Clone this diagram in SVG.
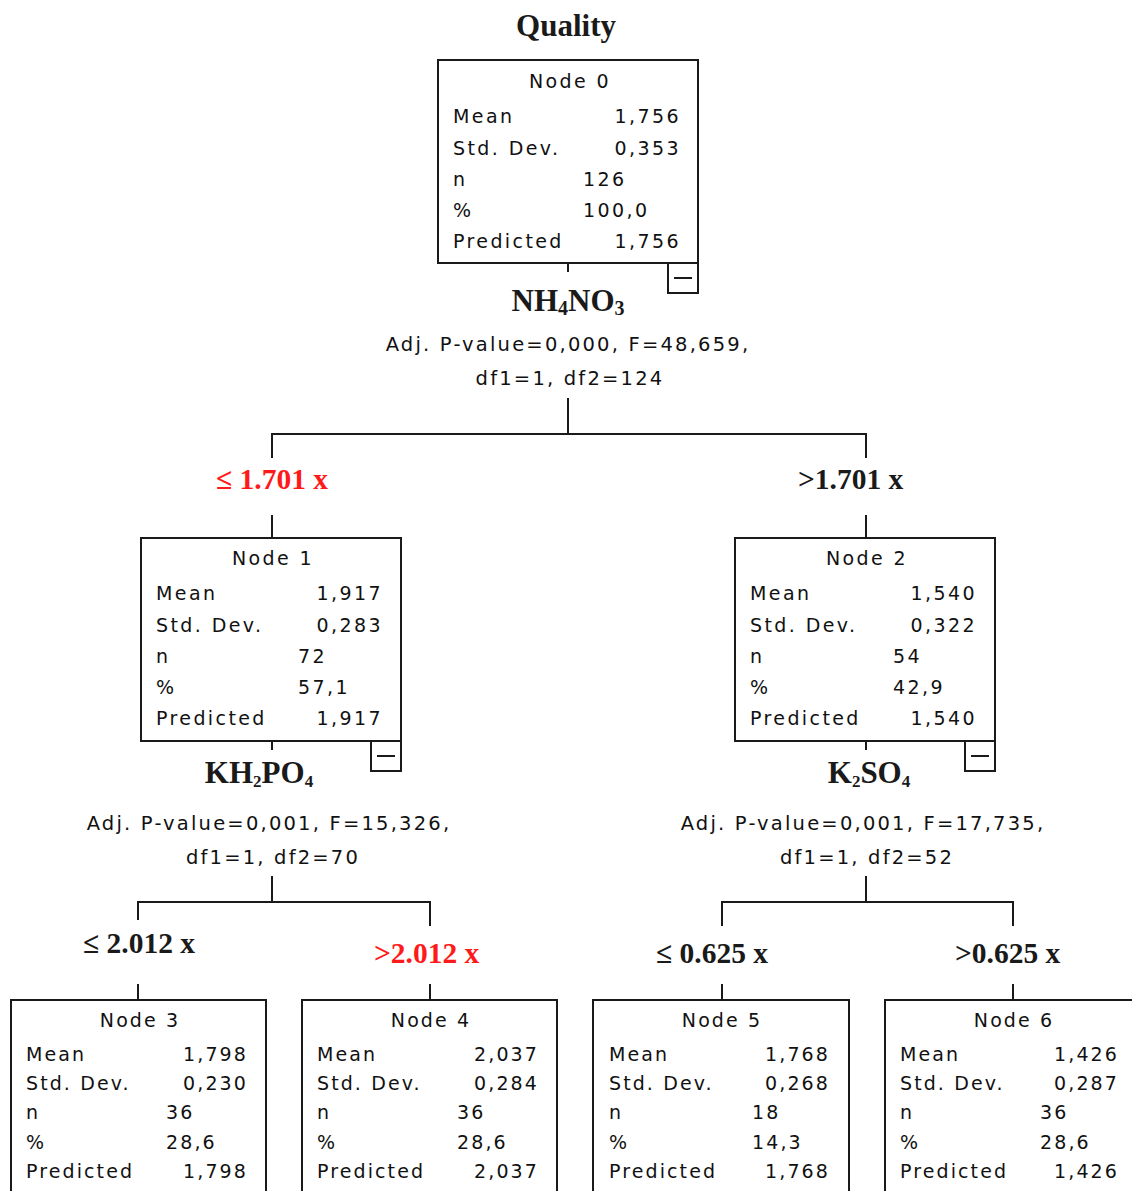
<svg xmlns="http://www.w3.org/2000/svg" width="1132" height="1191" viewBox="0 0 1132 1191">
<style>
.bg{fill:#fff}
.box{fill:#fff;stroke:#1a1a1a;stroke-width:2}
.mb{fill:#fff;stroke:#1a1a1a;stroke-width:2}
.ln{stroke:#1a1a1a;stroke-width:2;fill:none}
.t{font-family:"DejaVu Sans",sans-serif;font-size:19px;letter-spacing:2.4px;fill:#111}
.tb{font-family:"DejaVu Sans",sans-serif;font-size:19px;letter-spacing:2.1px;fill:#111}
.p{font-family:"DejaVu Sans",sans-serif;font-size:19.5px;letter-spacing:2.2px;fill:#111;text-anchor:middle}
.v{font-family:"Liberation Serif",serif;font-weight:bold;font-size:31px;fill:#1a1a1a;text-anchor:middle}
.b{font-family:"Liberation Serif",serif;font-weight:bold;font-size:29.5px;fill:#1a1a1a}
.red{fill:#ff1a1a}
.e{text-anchor:end}
.m{text-anchor:middle}
</style>
<rect class="bg" x="0" y="0" width="1132" height="1191"/>
<text x="566" y="36" class="v">Quality</text>

<g id="connectors">
<path class="ln" d="M568 263V272"/>
<path class="ln" d="M568 398V434M272 434H866M272 433V458M866 433V458"/>
<path class="ln" d="M272 515V538M866 515V538"/>
<path class="ln" d="M272 741V750M866 741V750"/>
<path class="ln" d="M272 876V902M138 902H430M138 901V920M430 901V926"/>
<path class="ln" d="M866 876V902M722 902H1013M722 901V926M1013 901V926"/>
<path class="ln" d="M138 984V1000M430 984V1000M722 984V1000M1013 984V1000"/>
</g>

<g id="node0">
<rect class="box" x="438" y="60" width="260" height="203"/>
<text class="t m" x="570" y="88">Node 0</text>
<text class="t" x="453" y="123">Mean</text><text class="t e" x="681" y="123">1,756</text>
<text class="t" x="453" y="155">Std. Dev.</text><text class="t e" x="681" y="155">0,353</text>
<text class="t" x="453" y="186">n</text><text class="t" x="583" y="186">126</text>
<text class="t" x="453" y="217">%</text><text class="t" x="583" y="217">100,0</text>
<text class="t" x="453" y="248">Predicted</text><text class="t e" x="681" y="248">1,756</text>
<rect class="mb" x="668" y="263" width="30" height="30"/>
<path class="ln" d="M674 278H692"/>
</g>
<text class="v" x="568" y="311" font-size="33">NH<tspan font-size="20" dy="4">4</tspan><tspan dy="-4">NO</tspan><tspan font-size="20" dy="4">3</tspan></text>
<text class="p" x="568" y="351">Adj. P-value=0,000, F=48,659,</text>
<text class="p" x="570" y="385">df1=1, df2=124</text>

<text class="b red" x="216" y="489">≤ 1.701 x</text>
<text class="b" x="798" y="489">&gt;1.701 x</text>

<g id="node1">
<rect class="box" x="141" y="538" width="260" height="203"/>
<text class="t m" x="273" y="565">Node 1</text>
<text class="t" x="156" y="600">Mean</text><text class="t e" x="383" y="600">1,917</text>
<text class="t" x="156" y="632">Std. Dev.</text><text class="t e" x="383" y="632">0,283</text>
<text class="t" x="156" y="663">n</text><text class="t" x="298" y="663">72</text>
<text class="t" x="156" y="694">%</text><text class="t" x="298" y="694">57,1</text>
<text class="t" x="156" y="725">Predicted</text><text class="t e" x="383" y="725">1,917</text>
<rect class="mb" x="371" y="741" width="30" height="30"/>
<path class="ln" d="M377 756H395"/>
</g>
<text class="v" x="259" y="783" font-size="28">KH<tspan font-size="17" dy="4">2</tspan><tspan dy="-4">PO</tspan><tspan font-size="17" dy="4">4</tspan></text>
<text class="p" x="269" y="830">Adj. P-value=0,001, F=15,326,</text>
<text class="p" x="273" y="864">df1=1, df2=70</text>

<g id="node2">
<rect class="box" x="735" y="538" width="260" height="203"/>
<text class="t m" x="867" y="565">Node 2</text>
<text class="t" x="750" y="600">Mean</text><text class="t e" x="977" y="600">1,540</text>
<text class="t" x="750" y="632">Std. Dev.</text><text class="t e" x="977" y="632">0,322</text>
<text class="t" x="750" y="663">n</text><text class="t" x="893" y="663">54</text>
<text class="t" x="750" y="694">%</text><text class="t" x="893" y="694">42,9</text>
<text class="t" x="750" y="725">Predicted</text><text class="t e" x="977" y="725">1,540</text>
<rect class="mb" x="965" y="741" width="30" height="30"/>
<path class="ln" d="M971 756H989"/>
</g>
<text class="v" x="869" y="783" font-size="28">K<tspan font-size="17" dy="4">2</tspan><tspan dy="-4">SO</tspan><tspan font-size="17" dy="4">4</tspan></text>
<text class="p" x="863" y="830">Adj. P-value=0,001, F=17,735,</text>
<text class="p" x="867" y="864">df1=1, df2=52</text>

<text class="b" x="83" y="953">≤ 2.012 x</text>
<text class="b red" x="374" y="963">&gt;2.012 x</text>
<text class="b" x="656" y="963">≤ 0.625 x</text>
<text class="b" x="955" y="963">&gt;0.625 x</text>

<g id="node3">
<rect class="box" x="11" y="1000" width="255" height="200"/>
<text class="tb m" x="140" y="1027">Node 3</text>
<text class="tb" x="26" y="1061">Mean</text><text class="tb e" x="248" y="1061">1,798</text>
<text class="tb" x="26" y="1090">Std. Dev.</text><text class="tb e" x="248" y="1090">0,230</text>
<text class="tb" x="26" y="1119">n</text><text class="tb" x="166" y="1119">36</text>
<text class="tb" x="26" y="1149">%</text><text class="tb" x="166" y="1149">28,6</text>
<text class="tb" x="26" y="1178">Predicted</text><text class="tb e" x="248" y="1178">1,798</text>
</g>

<g id="node4">
<rect class="box" x="302" y="1000" width="255" height="200"/>
<text class="tb m" x="431" y="1027">Node 4</text>
<text class="tb" x="317" y="1061">Mean</text><text class="tb e" x="539" y="1061">2,037</text>
<text class="tb" x="317" y="1090">Std. Dev.</text><text class="tb e" x="539" y="1090">0,284</text>
<text class="tb" x="317" y="1119">n</text><text class="tb" x="457" y="1119">36</text>
<text class="tb" x="317" y="1149">%</text><text class="tb" x="457" y="1149">28,6</text>
<text class="tb" x="317" y="1178">Predicted</text><text class="tb e" x="539" y="1178">2,037</text>
</g>

<g id="node5">
<rect class="box" x="593" y="1000" width="256" height="200"/>
<text class="tb m" x="722" y="1027">Node 5</text>
<text class="tb" x="609" y="1061">Mean</text><text class="tb e" x="830" y="1061">1,768</text>
<text class="tb" x="609" y="1090">Std. Dev.</text><text class="tb e" x="830" y="1090">0,268</text>
<text class="tb" x="609" y="1119">n</text><text class="tb" x="752" y="1119">18</text>
<text class="tb" x="609" y="1149">%</text><text class="tb" x="752" y="1149">14,3</text>
<text class="tb" x="609" y="1178">Predicted</text><text class="tb e" x="830" y="1178">1,768</text>
</g>

<g id="node6">
<rect class="box" x="885" y="1000" width="255" height="200"/>
<text class="tb m" x="1014" y="1027">Node 6</text>
<text class="tb" x="900" y="1061">Mean</text><text class="tb e" x="1119" y="1061">1,426</text>
<text class="tb" x="900" y="1090">Std. Dev.</text><text class="tb e" x="1119" y="1090">0,287</text>
<text class="tb" x="900" y="1119">n</text><text class="tb" x="1040" y="1119">36</text>
<text class="tb" x="900" y="1149">%</text><text class="tb" x="1040" y="1149">28,6</text>
<text class="tb" x="900" y="1178">Predicted</text><text class="tb e" x="1119" y="1178">1,426</text>
</g>
</svg>
